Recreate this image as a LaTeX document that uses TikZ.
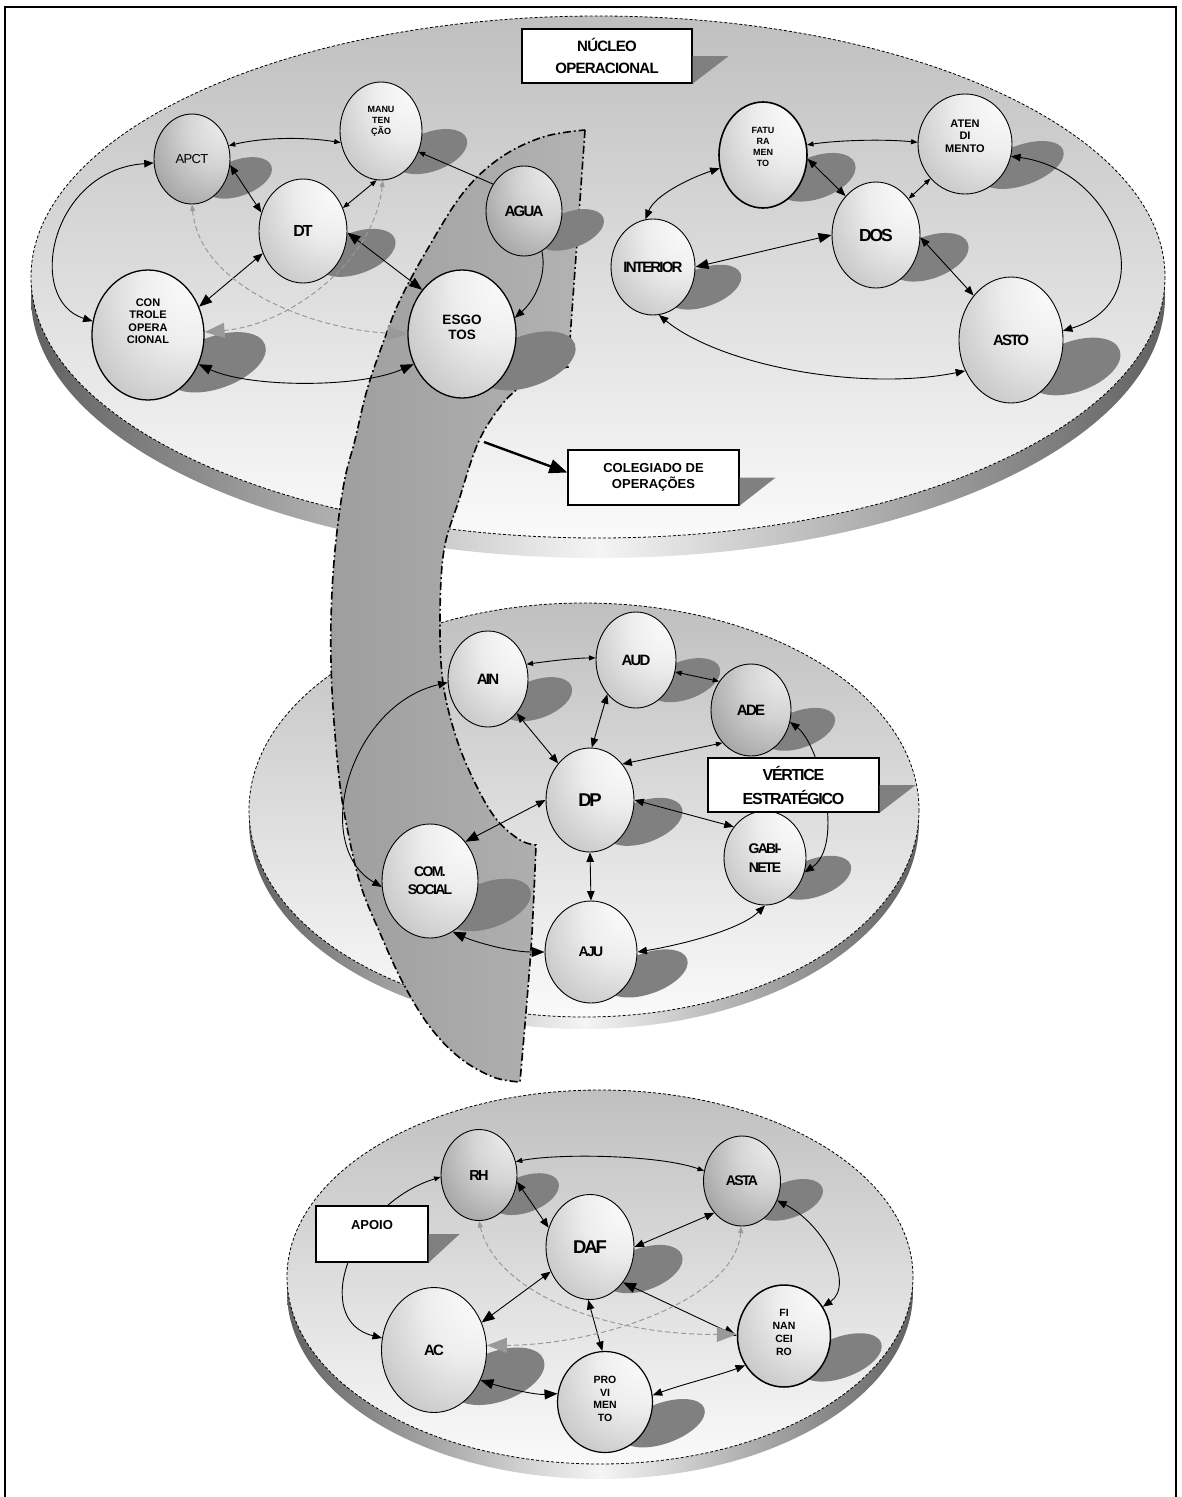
\documentclass[tikz,border=0pt]{standalone}
\usepackage{fontspec}
\setmainfont{Liberation Sans}
\newfontfamily\cnd{Liberation Sans}[LetterSpace=-12]
\newfontfamily\cndm{Liberation Sans}[LetterSpace=-8]
\newfontfamily\cnds{Liberation Sans}[LetterSpace=-5]
\usetikzlibrary{shapes.geometric,arrows.meta}
\pgfdeclarelayer{bg}
\pgfdeclarelayer{shd}
\pgfsetlayers{bg,shd,main}
\pgfdeclareradialshading{lightball}{\pgfpoint{25bp}{25bp}}{color(0bp)=(white); color(22bp)=(black!7); color(50bp)=(black!27); color(80bp)=(black!46)}
\pgfdeclareradialshading{darkball}{\pgfpoint{25bp}{25bp}}{color(0bp)=(black!5); color(22bp)=(black!17); color(50bp)=(black!42); color(80bp)=(black!62)}

\tikzset{
  unit/.style={ellipse, draw, line width=0.9pt, inner sep=0pt, shading=lightball},
  dark/.style={shading=darkball},
  nshadow/.style={ellipse, fill=black!50, inner sep=0pt, rotate=20},
  lab/.style={align=center, inner sep=0pt, font=\bfseries\fontsize{15}{15}\selectfont},
  fc/.style={font=\cnd\bfseries\fontsize{#1}{#1}\selectfont},
  fb/.style 2 args={font=\bfseries\fontsize{#1}{#2}\selectfont},
  box/.style={rectangle, draw, fill=white, line width=1.3pt, inner sep=0pt, align=center},
  boxshadow/.style={fill=black!50},
  con/.style={line width=0.9pt},
  gd/.style={draw=black!40, dash pattern=on 5pt off 3pt, line width=1pt},
  tS/.tip={Triangle[length=6.5pt,width=5pt]},
  tM/.tip={Triangle[length=9.5pt,width=7.5pt]},
  tL/.tip={Triangle[length=13pt,width=10pt]},
  tG/.tip={Triangle[length=20pt,width=15pt]},
  band/.style={draw=black, line width=1.6pt, dash pattern=on 8pt off 3pt on 1.8pt off 3pt,
    left color=black!38, right color=black!30},
}

% a disk: side band first, then the dashed top surface
\newcommand\disk[5]{%
  \shade[left color=black!62, right color=black!62, middle color=black!4]
    (#1,{#2+#5}) ellipse [x radius=#3, y radius=#4];
  \path[draw=black, line width=0.8pt, dash pattern=on 3pt off 2pt,
    top color=black!25, bottom color=black!2] (#1,#2) ellipse [x radius=#3, y radius=#4];
}

% a unit: cast shadow, shaded ellipse, and its label
\newcommand\orgunit[8]{%
  \begin{pgfonlayer}{shd}
    \node[nshadow, minimum width={1.85*#4}, minimum height={0.8*#5}] at ({#2+1.22*#4},{#3+0.42*#5}) {};
  \end{pgfonlayer}
  \node[unit, #6, minimum width={2*#4}, minimum height={2*#5}] (#1) at (#2,#3) {};
  \node[lab, #7] at (#1.center) {#8};
}

\begin{document}
\begin{tikzpicture}[x=1pt, y=-1pt]
\useasboundingbox (0,0) rectangle (1182,1497);

\begin{pgfonlayer}{bg}
  \disk{598}{277}{567}{261}{20}
  \disk{584}{810}{335}{207}{12}
  \disk{600}{1277}{313}{187}{15}
  % the curved band crossing the two upper levels
  \path[band] (585,130) -- (568,367)
    -- plot[smooth, tension=0.6] coordinates {(568,367) (543,373) (520,387) (500,407) (478,443) (459,500) (444,550) (440,617) (443,683) (457,740) (477,787) (497,820) (520,840) (536,845)}
    -- plot[smooth, tension=0.6] coordinates {(536,845) (532,933) (527,1000) (520,1082)}
    -- plot[smooth, tension=0.6] coordinates {(520,1082) (493,1077) (460,1058) (430,1027) (403,983) (380,933) (360,883) (345,817) (338,767) (332,690) (331,620) (335,550) (344,483) (355,440) (367,390) (383,343) (400,300) (427,250) (463,193) (500,158) (543,137) (585,130)}
    -- cycle;
\end{pgfonlayer}

% frame
\draw[line width=1.3pt] (5,1497) -- (5,7) -- (1176,7) -- (1176,1497);

% ---------- operational core ----------
\orgunit{apct}{192}{159}{38}{45}{dark}{font=\cnds\fontsize{13}{13}\selectfont}{APCT}
\orgunit{manu}{381}{131}{41}{49}{}{fb={9}{11}, yshift=10pt}{MANU\\TEN\\ÇÃO}
\orgunit{dt}{303}{231}{44}{52}{}{fc=16}{DT}
\orgunit{agua}{524}{211}{38}{45}{dark}{fc=15}{AGUA}
\orgunit{cont}{148}{335}{56}{65}{line width=1.3pt}{fb={11}{12.5}, yshift=14pt}{CON\\TROLE\\OPERA\\CIONAL}
\orgunit{esg}{462}{334}{54}{64}{line width=1.3pt}{fb={13.5}{15}, yshift=7pt}{ESGO\\TOS}

\orgunit{fat}{763}{155}{44}{53}{line width=1.6pt}{fb={9}{11}, yshift=8pt}{FATU\\RA\\MEN\\TO}
\orgunit{aten}{965}{144}{47}{50}{}{fb={11}{12.5}, yshift=8pt}{ATEN\\DI\\MENTO}
\orgunit{dos}{876}{235}{44}{53}{}{fc=17.5}{DOS}
\orgunit{int}{653}{267}{42}{48}{}{fc=15}{INTERIOR}
\orgunit{asto}{1011}{340}{52}{63}{}{fc=15}{ASTO}

\draw[con, tS-tS] (apct.20) .. controls (265,137) and (305,137) .. (manu.196);
\draw[con, tM-tM] (apct.-9) -- (dt.156);
\draw[con, tS-tS] (manu.265) -- (dt.30);
\draw[con, -tS] (agua.139) -- (manu.-29);
\draw[con, -tM] (agua.-66) .. controls (547,275) and (535,300) .. (esg.17);
\draw[con, tL-tL] (dt.-2) -- (esg.132);
\draw[con, tL-tM] (cont.29) -- (dt.209);
\draw[con, tM-tM] (apct.186) .. controls (50,170) and (25,300) .. (cont.166);
\draw[con, tL-tL] (cont.-30) .. controls (250,388) and (360,388) .. (esg.212);
\draw[gd, tS-tG] (apct.-90) .. controls (200,290) and (320,330) .. (esg.180);
\draw[gd, tS-tG] (manu.-88) .. controls (375,260) and (290,325) .. (cont.3);

\draw[con, tS-tS] (fat.13) .. controls (840,140) and (885,139) .. (aten.178);
\draw[con, tM-tM] (fat.-5) -- (dos.128);
\draw[con, tS-tS] (aten.225) -- (dos.48);
\draw[con, tM-tM] (fat.197) .. controls (690,178) and (655,195) .. (int.99);
\draw[con, tL-tL] (int.0) -- (dos.180);
\draw[con, tM-tM] (dos.-3) -- (asto.130);
\draw[con, tM-tM] (aten.-15) .. controls (1115,170) and (1165,300) .. (asto.10);
\draw[con, tM-tM] (int.-83) .. controls (720,365) and (860,392) .. (asto.214);

\node[box, minimum width=170, minimum height=54, font=\cnds\bfseries\fontsize{15}{22}\selectfont] (nucleo) at (607,56) {NÚCLEO\\OPERACIONAL};
\fill[boxshadow] (nucleo.east) -- ++(36,0) -- (nucleo.south east) -- cycle;

\node[box, minimum width=171, minimum height=55, font=\bfseries\fontsize{13}{16}\selectfont] (coleg) at (653.5,477.5) {COLEGIADO DE\\OPERAÇÕES};
\fill[boxshadow] (coleg.east) -- ++(36,0) -- (coleg.south east) -- cycle;
\coordinate (cfrom) at (484,442);
\draw[line width=2.4pt, -{Triangle[length=18pt,width=14pt]}] (cfrom) -- ([yshift=5pt]coleg.west);

% ---------- strategic apex ----------
\orgunit{ain}{488}{679}{40}{48}{}{fc=15}{AIN}
\orgunit{aud}{636}{660}{40}{48}{}{fc=15}{AUD}
\orgunit{ade}{751}{710}{40}{46}{dark}{fc=15}{ADE}
\orgunit{dp}{590}{800}{44}{52}{}{fc=18.5}{DP}
\orgunit{com}{430}{881}{48}{57}{}{font=\cnd\bfseries\fontsize{14}{18}\selectfont}{COM.\\SOCIAL}
\orgunit{aju}{591}{952}{46}{51}{}{fc=14}{AJU}
\orgunit{gab}{765}{858}{41}{47}{}{font=\cnd\bfseries\fontsize{14}{19}\selectfont}{GABI-\\NETE}

\draw[con, tS-tS] (ain.21) .. controls (550,661) and (575,658) .. (aud.177);
\draw[con, tS-tS] (aud.-17) -- (ade.138);
\draw[con, tM-tM] (aud.230) -- (dp.88);
\draw[con, tM-tM] (ain.-50) -- (dp.131);
\draw[con, tS-tM] (ade.229) -- (dp.48);
\draw[con, tM-tM] (dp.0) -- (gab.135);
\draw[con, tM-tL] (dp.180) -- (com.48);
\draw[con, tM-tM] (dp.-90) -- (aju.90);
\draw[con, tL-tL] (com.-66) .. controls (475,942) and (510,952) .. (aju.180);
\draw[con, tM-tM] (aju.0) .. controls (680,945) and (740,930) .. (gab.-90);
\draw[con, tM-tM] (ain.185) .. controls (350,705) and (310,845) .. (com.187);
\draw[con, tM-tM] (ade.-17) .. controls (820,745) and (845,845) .. (gab.-20);

\node[box, minimum width=171, minimum height=54, font=\cndm\bfseries\fontsize{16}{24}\selectfont] (vert) at (793.5,785) {VÉRTICE\\ESTRATÉGICO};
\fill[boxshadow] (vert.east) -- ++(36,0) -- (vert.south east) -- cycle;

% ---------- support ----------
\orgunit{rh}{479}{1175}{38}{45.5}{dark}{fc=14.5}{RH}
\orgunit{daf}{590}{1247}{44}{52.5}{}{fc=18.5}{DAF}
\orgunit{ac}{434}{1350}{52.5}{62.5}{}{fc=15}{AC}
\orgunit{prov}{605}{1402}{47.5}{50.5}{line width=1.2pt}{fb={10.5}{12.7}, yshift=3pt}{PRO\\VI\\MEN\\TO}
\orgunit{asta}{742}{1181}{38.5}{45}{dark}{fc=14}{ASTA}
\orgunit{fin}{784}{1336}{46.5}{51}{line width=1.5pt}{fb={10.5}{13}, yshift=4pt}{FI\\NAN\\CEI\\RO}

\draw[con, tS-tS] (rh.20) .. controls (560,1153) and (660,1155) .. (asta.165);
\draw[con, tM-tM] (rh.-10) -- (daf.155);
\draw[con, tS-tM] (rh.183) .. controls (350,1205) and (310,1320) .. (ac.167);
\draw[con, tM-tM] (daf.0) -- (asta.229);
\draw[con, tM-tL] (daf.212) -- (ac.30);
\draw[con, tM-tM] (daf.268) -- (prov.93);
\draw[con, tL-tL] (daf.-47) -- (fin.180);
\draw[con, tL-tL] (ac.-33) .. controls (505,1388) and (535,1395) .. (prov.170);
\draw[con, tM-tM] (prov.8) .. controls (680,1385) and (720,1375) .. (fin.217);
\draw[con, tM-tM] (asta.-29) .. controls (825,1225) and (855,1285) .. (fin.37);
\draw[gd, tS-tG] (rh.-90) .. controls (495,1290) and (600,1335) .. (fin.178);
\draw[gd, tS-tG] (asta.-91) .. controls (735,1300) and (600,1345) .. (ac.5);

\node[box, minimum width=112, minimum height=56] (apoio) at (372,1234) {};
\fill[boxshadow] (apoio.east) -- ++(31,0) -- (apoio.south east) -- cycle;
\node[font=\bfseries\fontsize{13}{13}\selectfont, inner sep=0pt] at ([yshift=9pt]apoio.center) {APOIO};

\end{tikzpicture}
\end{document}
